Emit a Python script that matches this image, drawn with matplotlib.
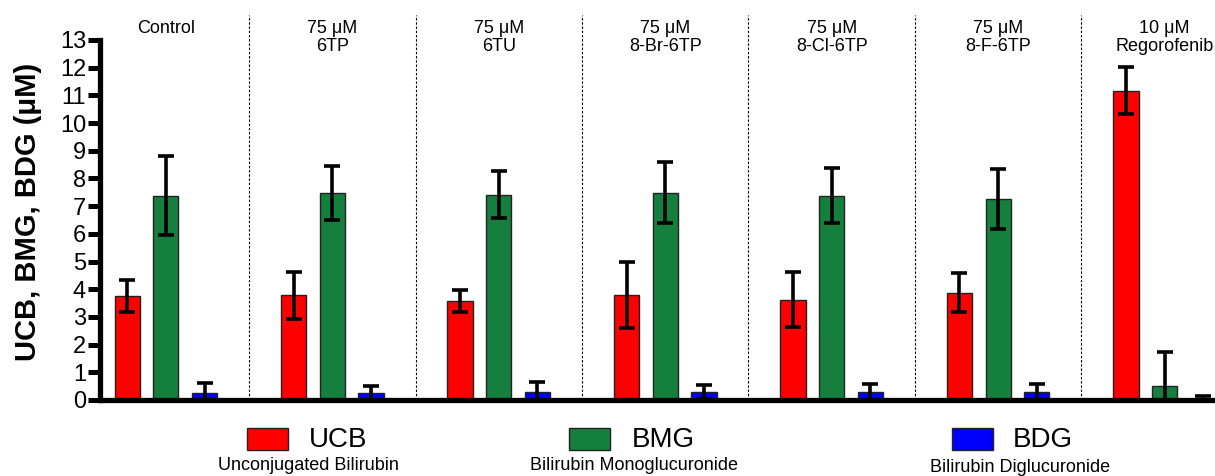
import numpy as np
import matplotlib
matplotlib.use("Agg")
import matplotlib.pyplot as plt
from matplotlib.patches import Rectangle

plt.rcParams["font.family"] = ["Liberation Sans", "DejaVu Sans"]

# group labels along the top
groups = ["Control", "75 μM\n6TP", "75 μM\n6TU", "75 μM\n8-Br-6TP",
          "75 μM\n8-Cl-6TP", "75 μM\n8-F-6TP", "10 μM\nRegorofenib"]

# mean values (μM) and error bars
ucb = [3.75, 3.78, 3.58, 3.80, 3.62, 3.88, 11.17]
ucb_err = [0.57, 0.85, 0.40, 1.20, 1.00, 0.72, 0.85]
bmg = [7.38, 7.48, 7.42, 7.48, 7.38, 7.25, 0.50]
bmg_err = [1.43, 0.97, 0.85, 1.10, 1.00, 1.08, 1.24]
bdg = [0.27, 0.25, 0.30, 0.30, 0.28, 0.28, 0.05]
bdg_err = [0.34, 0.25, 0.35, 0.25, 0.30, 0.28, 0.08]

series_names = ["UCB", "BMG", "BDG"]
series_long = ["Unconjugated Bilirubin", "Bilirubin Monoglucuronide",
               "Bilirubin Diglucuronide"]
colors = ["#FF0000", "#15803D", "#0000FF"]

W, H = 1215, 476
fig = plt.figure(figsize=(W / 100, H / 100), dpi=100)
ax = fig.add_axes([100 / W, 1 - 400 / H, 1 - 100 / W, 360 / H])

group_step = 4.3
centers = np.arange(len(groups)) * group_step
bar_w = 0.65

for k, (vals, errs) in enumerate([(ucb, ucb_err), (bmg, bmg_err), (bdg, bdg_err)]):
    xs = centers + (k - 1)
    ax.bar(xs, vals, width=bar_w, color=colors[k], edgecolor="#222222",
           linewidth=1, zorder=2)
    ax.errorbar(xs, vals, yerr=errs, fmt="none", ecolor="black",
                elinewidth=2.6, capsize=5.5, capthick=2.6, zorder=3)

# dashed separators between groups
for c in centers[:-1]:
    ax.vlines(c + group_step / 2, 0, 13.9, colors="black", linewidth=0.8,
              linestyles=(0, (2.2, 1.6)), clip_on=False, zorder=1)

# group labels
for c, g in zip(centers, groups):
    ax.text(c, 13.72, g, ha="center", va="top", fontsize=13,
            linespacing=1.05, clip_on=False)

ax.set_xlim(-1.7, 27.1)
ax.set_ylim(0, 13)
ax.set_yticks(range(0, 14))
ax.tick_params(axis="y", length=8.5, width=3.6, labelsize=17, pad=1.5)
ax.tick_params(axis="x", bottom=False, labelbottom=False)
ax.spines["top"].set_visible(False)
ax.spines["right"].set_visible(False)
ax.spines["left"].set_linewidth(3.8)
ax.spines["bottom"].set_linewidth(3.8)

fig.text(28 / W, 1 - 212 / H, "UCB, BMG, BDG (μM)", rotation=90,
         ha="center", va="center", fontsize=21, fontweight="bold")

# legend drawn below the axes
leg_sq_x = [247, 569, 952]
leg_txt_x = [309, 632, 1013]
leg_long_x = [308, 634, 1020]
leg_long_y = [465, 465, 467]
for i in range(3):
    fig.add_artist(Rectangle((leg_sq_x[i] / W, 1 - 450 / H), 41 / W, 22 / H,
                             transform=fig.transFigure, facecolor=colors[i],
                             edgecolor="#222222", linewidth=1))
    fig.text(leg_txt_x[i] / W, 1 - 440 / H, series_names[i], ha="left",
             va="center", fontsize=20)
    fig.text(leg_long_x[i] / W, 1 - leg_long_y[i] / H, series_long[i],
             ha="center", va="center", fontsize=13)

fig.savefig("out.png", dpi=100)
